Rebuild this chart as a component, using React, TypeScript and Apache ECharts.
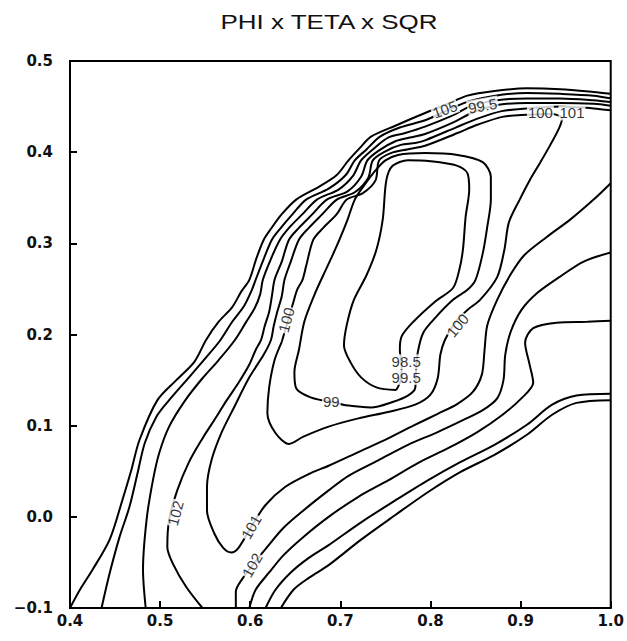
import React, { useEffect, useRef } from "react";
import * as echarts from "echarts";

// ---- axis ranges / ticks ----
const xRange = [0.4, 1.0];
const yRange = [-0.1, 0.5];
const tickStep = 0.1;

// ---- contour polylines, [phi, teta] data coordinates ----
const contour105Left = [[0.400,-0.100],[0.411,-0.080],[0.425,-0.058],[0.444,-0.025],[0.458,0.018],[0.468,0.051],[0.477,0.084],[0.497,0.128],[0.518,0.150],[0.538,0.170],[0.551,0.194],[0.565,0.214],[0.580,0.230],[0.590,0.247],[0.599,0.260],[0.607,0.284],[0.615,0.304],[0.623,0.316],[0.635,0.332],[0.651,0.348],[0.676,0.362],[0.696,0.375],[0.709,0.391],[0.722,0.405],[0.734,0.417],[0.761,0.429],[0.794,0.443],[0.819,0.453],[0.841,0.462],[0.871,0.467],[0.907,0.470],[0.944,0.469],[0.981,0.466],[1.000,0.464]];
const contour104Left = [[0.435,-0.100],[0.444,-0.062],[0.455,-0.022],[0.466,0.011],[0.475,0.048],[0.483,0.081],[0.496,0.110],[0.510,0.128],[0.532,0.153],[0.552,0.176],[0.567,0.194],[0.580,0.214],[0.593,0.231],[0.601,0.247],[0.606,0.260],[0.615,0.283],[0.624,0.304],[0.634,0.317],[0.647,0.332],[0.662,0.348],[0.687,0.360],[0.706,0.375],[0.716,0.391],[0.729,0.403],[0.744,0.417],[0.766,0.427],[0.794,0.435],[0.821,0.447],[0.843,0.456],[0.872,0.462],[0.907,0.465],[0.944,0.464],[0.981,0.462],[1.000,0.459]];
const contour103Left = [[0.484,-0.100],[0.481,-0.058],[0.485,-0.003],[0.492,0.040],[0.499,0.070],[0.510,0.099],[0.528,0.128],[0.547,0.152],[0.565,0.172],[0.583,0.194],[0.595,0.213],[0.605,0.229],[0.611,0.244],[0.614,0.260],[0.623,0.283],[0.633,0.304],[0.644,0.318],[0.658,0.332],[0.674,0.348],[0.698,0.359],[0.714,0.374],[0.723,0.391],[0.736,0.403],[0.753,0.416],[0.772,0.421],[0.794,0.428],[0.824,0.440],[0.846,0.451],[0.874,0.457],[0.907,0.459],[0.944,0.459],[0.981,0.457],[1.000,0.455]];
const contour102Left = [[0.547,-0.100],[0.529,-0.077],[0.514,-0.051],[0.508,-0.033],[0.510,-0.003],[0.519,0.029],[0.532,0.060],[0.547,0.086],[0.560,0.106],[0.574,0.128],[0.587,0.147],[0.599,0.167],[0.606,0.183],[0.612,0.194],[0.616,0.209],[0.621,0.225],[0.624,0.242],[0.627,0.260],[0.635,0.280],[0.643,0.304],[0.654,0.317],[0.669,0.332],[0.685,0.348],[0.708,0.357],[0.723,0.373],[0.730,0.391],[0.743,0.402],[0.761,0.412],[0.777,0.416],[0.794,0.420],[0.826,0.433],[0.848,0.444],[0.876,0.452],[0.907,0.454],[0.944,0.454],[0.981,0.453],[1.000,0.451]];
const contour101 = [[1.000,0.446],[0.981,0.448],[0.944,0.450],[0.907,0.448],[0.879,0.445],[0.850,0.436],[0.828,0.427],[0.794,0.413],[0.783,0.410],[0.767,0.408],[0.750,0.401],[0.736,0.391],[0.731,0.372],[0.716,0.356],[0.696,0.348],[0.680,0.332],[0.665,0.317],[0.654,0.304],[0.645,0.280],[0.638,0.260],[0.635,0.242],[0.630,0.225],[0.626,0.209],[0.623,0.194],[0.615,0.178],[0.599,0.153],[0.582,0.120],[0.568,0.092],[0.557,0.062],[0.552,0.033],[0.552,0.007],[0.560,-0.018],[0.570,-0.034],[0.579,-0.039],[0.587,-0.034],[0.601,-0.011],[0.617,0.013],[0.639,0.033],[0.665,0.047],[0.687,0.056],[0.720,0.071],[0.753,0.086],[0.781,0.100],[0.808,0.113],[0.830,0.124],[0.847,0.137],[0.857,0.156],[0.860,0.183],[0.863,0.210],[0.874,0.238],[0.889,0.266],[0.904,0.287],[0.929,0.307],[0.955,0.326],[0.981,0.348],[1.000,0.366]];
const contour100 = [[0.635,0.192],[0.648,0.236],[0.652,0.249],[0.658,0.260],[0.662,0.275],[0.670,0.304],[0.681,0.317],[0.696,0.332],[0.707,0.348],[0.725,0.355],[0.739,0.369],[0.743,0.391],[0.756,0.399],[0.774,0.403],[0.794,0.407],[0.830,0.421],[0.852,0.430],[0.881,0.439],[0.907,0.441],[0.935,0.442],[0.946,0.437],[0.943,0.427],[0.933,0.408],[0.922,0.389],[0.910,0.369],[0.899,0.348],[0.887,0.323],[0.882,0.293],[0.874,0.263],[0.855,0.238],[0.841,0.227],[0.828,0.214],[0.816,0.194],[0.811,0.178],[0.808,0.152],[0.800,0.134],[0.783,0.123],[0.753,0.115],[0.720,0.108],[0.687,0.099],[0.659,0.088],[0.643,0.080],[0.628,0.092],[0.619,0.114],[0.621,0.142],[0.627,0.172],[0.635,0.192]];
const contour99 = [[0.690,0.126],[0.667,0.131],[0.651,0.141],[0.649,0.159],[0.654,0.183],[0.660,0.214],[0.671,0.243],[0.681,0.265],[0.690,0.284],[0.699,0.304],[0.708,0.326],[0.716,0.348],[0.726,0.363],[0.739,0.380],[0.750,0.391],[0.764,0.397],[0.794,0.399],[0.830,0.397],[0.858,0.389],[0.867,0.373],[0.867,0.348],[0.863,0.318],[0.858,0.289],[0.850,0.260],[0.841,0.249],[0.825,0.238],[0.805,0.218],[0.792,0.202],[0.786,0.181],[0.784,0.161],[0.783,0.141],[0.775,0.133],[0.758,0.126],[0.734,0.120],[0.709,0.122],[0.690,0.126]];
const contour98_5 = [[0.762,0.139],[0.740,0.142],[0.723,0.153],[0.711,0.170],[0.704,0.188],[0.707,0.210],[0.715,0.238],[0.729,0.265],[0.740,0.293],[0.747,0.326],[0.751,0.369],[0.758,0.385],[0.775,0.391],[0.800,0.390],[0.830,0.385],[0.841,0.377],[0.843,0.359],[0.839,0.329],[0.836,0.293],[0.832,0.271],[0.825,0.251],[0.805,0.236],[0.781,0.214],[0.768,0.198],[0.766,0.183],[0.768,0.167],[0.767,0.150],[0.762,0.139]];
const contour102Right = [[0.584,-0.100],[0.584,-0.082],[0.592,-0.067],[0.605,-0.050],[0.618,-0.034],[0.637,-0.012],[0.659,0.007],[0.687,0.029],[0.709,0.045],[0.742,0.062],[0.775,0.079],[0.808,0.093],[0.836,0.106],[0.858,0.117],[0.874,0.130],[0.881,0.150],[0.883,0.178],[0.889,0.203],[0.901,0.227],[0.919,0.246],[0.943,0.263],[0.970,0.280],[1.000,0.290]];
const contour103Right = [[0.599,-0.100],[0.606,-0.080],[0.621,-0.061],[0.637,-0.042],[0.659,-0.022],[0.687,0.000],[0.720,0.022],[0.753,0.040],[0.786,0.059],[0.819,0.075],[0.852,0.093],[0.880,0.112],[0.902,0.131],[0.914,0.147],[0.910,0.167],[0.905,0.191],[0.914,0.207],[0.940,0.213],[0.974,0.214],[1.000,0.215]];
const contour104Right = [[0.617,-0.100],[0.628,-0.080],[0.645,-0.061],[0.665,-0.045],[0.687,-0.031],[0.723,-0.006],[0.761,0.018],[0.797,0.040],[0.833,0.060],[0.871,0.079],[0.907,0.101],[0.935,0.123],[0.962,0.133],[1.000,0.135]];
const contour105Right = [[0.634,-0.100],[0.648,-0.080],[0.665,-0.067],[0.687,-0.053],[0.723,-0.025],[0.761,0.002],[0.797,0.027],[0.833,0.049],[0.871,0.068],[0.907,0.090],[0.935,0.112],[0.962,0.125],[1.000,0.128]];

const contours = [
  contour105Left, contour104Left, contour103Left, contour102Left, contour101,
  contour100, contour99, contour98_5, contour102Right, contour103Right,
  contour104Right, contour105Right,
];

// ---- contour labels ----
const labelTexts = ["105", "99.5", "100", "101", "100", "99", "98.5", "99.5", "100", "102", "101", "102"];
const labelPoints = [[0.816,0.447],[0.858,0.451],[0.922,0.443],[0.957,0.443],[0.640,0.216],[0.690,0.126],[0.773,0.170],[0.773,0.153],[0.830,0.210],[0.517,0.004],[0.601,-0.011],[0.602,-0.053]];
const labelAngles = [20, 10, 0, 0, 75, 0, 0, 0, 50, 75, 60, 60];

const titleText = "PHI x TETA x SQR";

export default function App() {
  const ref = useRef<HTMLDivElement>(null);
  useEffect(() => {
    if (!ref.current) return;
    const chart = echarts.init(ref.current, null, { renderer: "svg" });
    const fmt = (v: number) => {
      const s = (Math.round(v * 10) / 10).toFixed(1);
      return s.replace("-", "\u2212");
    };
    const axisFont = { fontFamily: "DejaVu Sans", fontWeight: "bold" as const, fontSize: 15, color: "#111" };
    const lineSeries = contours.map((pts) => ({
      type: "line",
      data: pts,
      symbol: "none",
      smooth: 0.3,
      silent: true,
      lineStyle: { color: "#000", width: 2 },
      z: 3,
    }));
    const labelSeries = {
      type: "scatter",
      symbolSize: 1,
      itemStyle: { color: "rgba(0,0,0,0)" },
      silent: true,
      z: 10,
      data: labelTexts.map((t, i) => ({
        value: labelPoints[i],
        label: {
          show: true,
          position: "inside",
          formatter: t,
          rotate: labelAngles[i],
          color: "#000",
          fontFamily: "Liberation Sans",
          fontSize: 15,
          backgroundColor: "#fff",
          padding: [0, 1],
        },
      })),
    };
    chart.setOption({
      animation: false,
      backgroundColor: "#fff",
      graphic: [
        {
          type: "text",
          x: 329,
          y: 22,
          scaleX: 1.3,
          style: {
            text: titleText,
            fontFamily: "Liberation Sans",
            fontSize: 20,
            fill: "#111",
            textAlign: "center",
            textVerticalAlign: "middle",
          },
        },
      ],
      grid: { left: 70, right: 13, top: 61, bottom: 33, show: true, borderColor: "#000", borderWidth: 2 },
      xAxis: {
        type: "value",
        min: xRange[0],
        max: xRange[1],
        interval: tickStep,
        splitLine: { show: false },
        axisLine: { show: true, onZero: false, lineStyle: { color: "#000", width: 2 } },
        axisTick: { show: true, inside: true, length: 7, lineStyle: { color: "#000", width: 2 } },
        axisLabel: { ...axisFont, margin: 5, formatter: fmt },
      },
      yAxis: {
        type: "value",
        min: yRange[0],
        max: yRange[1],
        interval: tickStep,
        splitLine: { show: false },
        axisLine: { show: true, onZero: false, lineStyle: { color: "#000", width: 2 } },
        axisTick: { show: true, inside: true, length: 7, lineStyle: { color: "#000", width: 2 } },
        axisLabel: { ...axisFont, margin: 17, formatter: fmt },
      },
      series: [...lineSeries, labelSeries],
    });
    return () => chart.dispose();
  }, []);
  return <div ref={ref} style={{ position: "absolute", left: 0, top: 0, width: 627, height: 641 }} />;
}
